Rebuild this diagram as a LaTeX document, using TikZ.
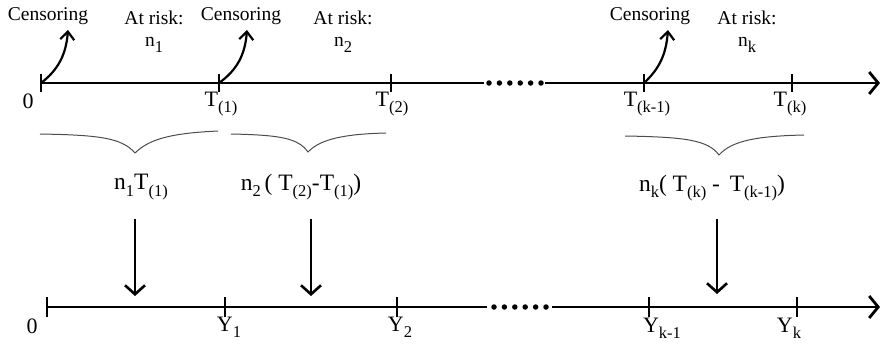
\documentclass[tikz,border=0pt]{standalone}
\usepackage{fontspec}
\setmainfont{Liberation Serif}
\usetikzlibrary{arrows.meta}
\newcommand\lo[1]{\raisebox{-0.6ex}{\fontsize{16.5}{16.5}\selectfont #1}}
\begin{document}
\begin{tikzpicture}[x=1pt,y=-1pt,
  axis/.style={line width=2.8pt},
  tick/.style={line width=2.8pt},
  lbl/.style={font=\fontsize{22}{24}\selectfont, inner sep=0pt},
  flbl/.style={font=\fontsize{23.5}{25}\selectfont, inner sep=0pt},
  small/.style={font=\fontsize{19.5}{21}\selectfont, inner sep=0pt},
  cens/.style={line width=2.2pt, -{Straight Barb[length=8pt,width=14pt]}},
  down/.style={line width=2.6pt, -{Straight Barb[length=9pt,width=20pt]}},
  axarrow/.style={axis, -{Straight Barb[length=9pt,width=22pt]}},
  brace/.style={line width=1pt, draw=gray!60!black},
  dot/.style={fill=black, circle, inner sep=0pt, minimum size=5.5pt},
]
\useasboundingbox (0,0) rectangle (882,349);

% ---------- top axis ----------
\coordinate (a0) at (41,83);
\coordinate (a1) at (219,83);
\coordinate (a2) at (391,83);
\coordinate (a3) at (484,83);
\coordinate (a4) at (545,83);
\coordinate (ak1) at (644,83);
\coordinate (ak) at (792,83);
\coordinate (aend) at (880,83);
\draw[axis] (a0) -- (a3);
\draw[axarrow] (a4) -- (aend);
\foreach \i/\x in {1/489,2/499.4,3/509.8,4/520.2,5/530.6,6/541}
  \node[dot] (td\i) at (\x,83) {};
\foreach \c in {a0,a1,a2,ak1,ak}
  \draw[tick] ([yshift=9pt]\c) -- ([yshift=-9pt]\c);

\node[lbl] (t0) at (28,101) {0};
\node[lbl] (t1) at (221,104) {T\lo{(1)}};
\node[lbl] (t2) at (392,104) {T\lo{(2)}};
\node[lbl] (tk1) at (647,104) {T\lo{(k-1)}};
\node[lbl] (tk) at (790,104) {T\lo{(k)}};

% censoring
\node[small] (c1) at (48,16) {Censoring};
\node[small] (c2) at (241,16) {Censoring};
\node[small] (c3) at (650,16) {Censoring};
\coordinate (c1e) at (68,30);
\coordinate (c2e) at (247,30);
\coordinate (c3e) at (668,30);
\draw[cens] (a0) .. controls (58,70) and (66,55) .. (c1e);
\draw[cens] (a1) .. controls (237,70) and (245,55) .. (c2e);
\draw[cens] (ak1) .. controls (660,68) and (666,54) .. (c3e);

\node[small] (r1) at (154,18) {At risk:};
\node[small] (r2) at (343,18) {At risk:};
\node[small] (r3) at (747,18) {At risk:};
\node[small] (n1) at (154,45) {n\lo{1}};
\node[small] (n2) at (343,45) {n\lo{2}};
\node[small] (n3) at (747,45) {n\lo{k}};

% braces
\coordinate (b1l) at (40,134);
\coordinate (b1t) at (135,153);
\coordinate (b1r) at (218,131);
\coordinate (b2l) at (231,134);
\coordinate (b2t) at (308,152);
\coordinate (b2r) at (386,133);
\coordinate (b3l) at (625,136);
\coordinate (b3t) at (719,155);
\coordinate (b3r) at (804,135);
\draw[brace] (b1l) .. controls (100,135) and (122,138) .. (b1t) .. controls (150,138) and (175,133) .. (b1r);
\draw[brace] (b2l) .. controls (280,135) and (298,138) .. (b2t) .. controls (320,139) and (345,134) .. (b2r);
\draw[brace] (b3l) .. controls (685,137) and (708,140) .. (b3t) .. controls (732,140) and (760,136) .. (b3r);

% formulas
\node[flbl] (f1) at (141,187) {n\lo{1}T\lo{(1)}};
\node[flbl] (f2) at (301,187) {n\lo{2}\,( T\lo{(2)}-T\lo{(1)})};
\node[flbl] (f3) at (712,188) {n\lo{k}( T\lo{(k)} - \,T\lo{(k-1)})};

% down arrows
\coordinate (d1s) at (135,219);
\coordinate (d1e) at (135,296);
\coordinate (d2s) at (311,219);
\coordinate (d2e) at (311,296);
\coordinate (d3s) at (717,219);
\coordinate (d3e) at (717,294);
\draw[down] (d1s) -- (d1e);
\draw[down] (d2s) -- (d2e);
\draw[down] (d3s) -- (d3e);

% ---------- bottom axis ----------
\coordinate (e0) at (47,307);
\coordinate (y1) at (225,307);
\coordinate (y2) at (397,307);
\coordinate (e3) at (487,307);
\coordinate (e4) at (552,307);
\coordinate (yk1) at (649,307);
\coordinate (yk) at (797,307);
\coordinate (eend) at (880,307);
\draw[axis] (e0) -- (e3);
\draw[axarrow] (e4) -- (eend);
\foreach \i/\x in {1/494,2/504.4,3/514.8,4/525.2,5/535.6,6/546}
  \node[dot] (bd\i) at (\x,307) {};
\foreach \c in {e0,y1,y2,yk1,yk}
  \draw[tick] ([yshift=10pt]\c) -- ([yshift=-10pt]\c);

\node[lbl] (z0) at (32,326) {0};
\node[lbl] (zy1) at (229,327) {Y\lo{1}};
\node[lbl] (zy2) at (400,327) {Y\lo{2}};
\node[lbl] (zyk1) at (662,328) {Y\lo{k-1}};
\node[lbl] (zyk) at (789,328) {Y\lo{k}};
\end{tikzpicture}
\end{document}
